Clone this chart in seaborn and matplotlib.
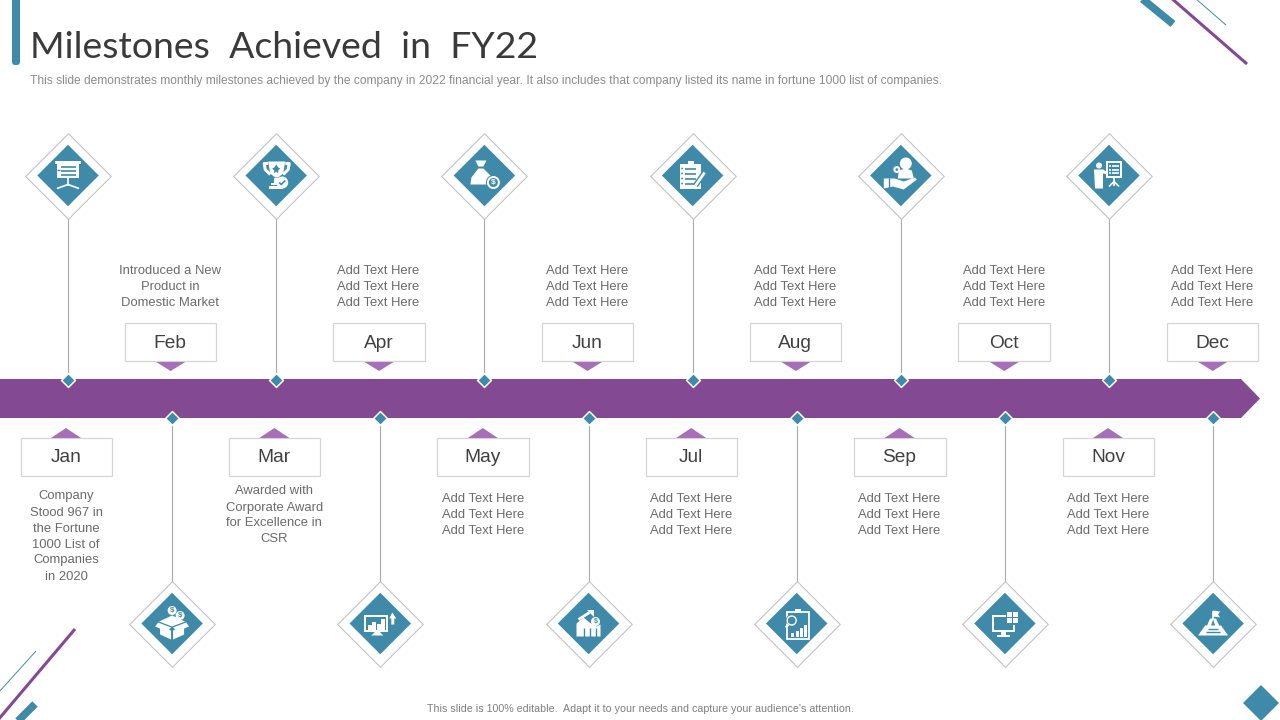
import numpy as np
import pandas as pd
import matplotlib
matplotlib.use('Agg')
import matplotlib.pyplot as plt
import seaborn as sns
from matplotlib.patches import Polygon, Rectangle, Circle, FancyBboxPatch

MONTHS = ['Jan', 'Feb', 'Mar', 'Apr', 'May', 'Jun', 'Jul', 'Aug', 'Sep', 'Oct', 'Nov', 'Dec']
ADD_TEXT = ['Add Text Here', 'Add Text Here', 'Add Text Here']
NOTES = [
    ['Company', 'Stood 967 in', 'the Fortune', '1000 List of', 'Companies', 'in 2020'],
    ['Introduced a New', 'Product in', 'Domestic Market'],
    ['Awarded with', 'Corporate Award', 'for Excellence in', 'CSR'],
    ADD_TEXT, ADD_TEXT, ADD_TEXT, ADD_TEXT, ADD_TEXT, ADD_TEXT, ADD_TEXT, ADD_TEXT, ADD_TEXT,
]
TITLE = 'Milestones  Achieved  in  FY22'
SUBTITLE = ('This slide demonstrates monthly milestones achieved by the company in 2022 financial year. '
            'It also includes that company listed its name in fortune 1000 list of companies.')
FOOTER = "This slide is 100% editable.  Adapt it to your needs and capture your audience's attention."

TEAL = '#408AA9'
PURPLE = '#834A93'
LIGHT_PURPLE = '#A86FB9'
GREY_LINE = '#ABABAB'
BOX_LINE = '#D5D5D5'
TEXT_GREY = '#6B6B6B'

BOX_X0 = 66.0
BOX_STEP = 104.2
LINE_X0 = 68.0
LINE_STEP = 104.1
BAND_TOP = 379
BAND_BOTTOM = 418

sns.set_theme(style='white')
plt.rcParams['font.family'] = ['Liberation Sans', 'DejaVu Sans']

fig = plt.figure(figsize=(12.8, 7.2), dpi=100)
ax = fig.add_axes([0, 0, 1, 1])

df = pd.DataFrame({'month': MONTHS})
df['x'] = BOX_X0 + BOX_STEP * df.index
df['up'] = df.index % 2 == 0           # Jan, Mar ... have their icon above the band
df['line_x'] = LINE_X0 + LINE_STEP * df.index
df['icon_y'] = np.where(df['up'], 175.5, 623.5)
df['node_y'] = np.where(df['up'], BAND_TOP + 1, BAND_BOTTOM)
df['box_top'] = np.where(df['up'], 438, 323)


def rect(x, y, w, h, c='white', z=8):
    ax.add_patch(Rectangle((x, y), w, h, fc=c, ec='none', zorder=z))


def poly(pts, c='white', z=8):
    ax.add_patch(Polygon(pts, closed=True, fc=c, ec='none', zorder=z))


def circ(x, y, r, c='white', z=8):
    ax.add_patch(Circle((x, y), r, fc=c, ec='none', zorder=z))


def seg(pts, c='white', lw=1.0, z=8):
    pts = np.array(pts, dtype=float)
    ax.plot(pts[:, 0], pts[:, 1], color=c, lw=lw, zorder=z, solid_capstyle='butt')


# icons, drawn around their diamond centre
def icon_board(x, y):
    rect(x - 13, y - 15, 26, 3)
    rect(x - 11, y - 12, 22, 14)
    for dy in (-9, -5, -1):
        seg([(x - 7, y + dy), (x + 8, y + dy)], TEAL, 1.2, 9)
    seg([(x - 11, y - 6), (x - 8, y - 6)], TEAL, 1, 9)
    seg([(x, y + 2), (x, y + 10)], lw=1.2)
    seg([(x, y + 9), (x - 11, y + 13)], lw=1.2)
    seg([(x, y + 9), (x + 11, y + 13)], lw=1.2)


def icon_trophy(x, y):
    poly([(x - 8, y - 14), (x + 9, y - 14), (x + 7, y - 2), (x + 2, y + 2), (x - 1, y + 2), (x - 6, y - 2)])
    seg([(x - 8, y - 12), (x - 12, y - 12), (x - 11, y - 6), (x - 6, y - 1)], lw=2.2)
    seg([(x + 9, y - 12), (x + 13, y - 12), (x + 12, y - 6), (x + 7, y - 1)], lw=2.2)
    poly([(x, y - 11), (x + 2, y - 8), (x + 4, y - 7), (x + 2, y - 5), (x + 2, y - 2), (x, y - 4), (x - 2, y - 2), (x - 2, y - 5), (x - 4, y - 7), (x - 2, y - 8)], TEAL, 9)
    rect(x - 2, y + 2, 4, 5)
    rect(x - 5, y + 7, 11, 2)
    rect(x - 7, y + 10, 14, 3)
    circ(x + 6, y + 7, 6)
    seg([(x + 3, y + 7), (x + 5, y + 9), (x + 9, y + 5)], TEAL, 1.2, 9)


def icon_bag(x, y):
    poly([(x - 9, y - 15), (x + 2, y - 15), (x - 1, y - 9), (x - 6, y - 9)])
    poly([(x - 6, y - 7), (x - 1, y - 7), (x + 6, y + 0), (x + 8, y + 9), (x - 14, y + 9), (x - 13, y + 2)])
    circ(x + 9, y + 7, 7.5, TEAL, 9)
    circ(x + 9, y + 7, 6.5, z=9)
    circ(x + 9, y + 7, 4.5, TEAL, 10)
    ax.text(x + 9, y + 7, '$', color='white', fontsize=6, fontweight='bold', ha='center', va='center', zorder=11)


def icon_clipboard(x, y):
    rect(x - 13, y - 12, 21, 25)
    rect(x - 5, y - 15, 6, 4)
    for dy in (-7, -2, 3, 8):
        seg([(x - 8, y + dy), (x + 3, y + dy)], TEAL, 1.2, 9)
        circ(x - 10.5, y + dy, 0.9, TEAL, 9)
    seg([(x + 12, y - 3), (x + 3, y + 10)], TEAL, 4, 9)
    seg([(x + 12, y - 3), (x + 3, y + 10)], lw=2, z=10)


def icon_hand(x, y):
    circ(x + 5, y - 12, 6)
    poly([(x - 3, y + 3), (x - 2, y - 5), (x + 5, y - 7), (x + 11, y - 5), (x + 13, y + 3)])
    circ(x - 4, y - 6, 3.5)
    circ(x - 4, y - 6, 1.3, TEAL, 9)
    poly([(x - 17, y + 3), (x - 6, y + 3), (x + 3, y + 6), (x + 14, y + 2), (x + 16, y + 4), (x + 3, y + 14), (x - 8, y + 11), (x - 17, y + 13)])
    seg([(x - 12, y + 2), (x - 12, y + 14)], TEAL, 1, 9)


def icon_presenter(x, y):
    circ(x - 10, y - 10, 3)
    poly([(x - 15, y - 6), (x - 6, y - 6), (x - 1, y - 3), (x - 1, y - 1), (x - 6, y - 2), (x - 6, y + 13), (x - 14, y + 13)])
    rect(x - 3, y - 15, 16, 17)
    rect(x - 1, y - 13, 12, 13, TEAL, 9)
    for dy in (-10, -6, -3):
        seg([(x + 3, y + dy), (x + 10, y + dy)], lw=1.2, z=10)
        seg([(x, y + dy), (x + 2, y + dy)], lw=1.2, z=10)
    seg([(x + 5, y + 2), (x + 5, y + 10)], lw=1.2)
    seg([(x + 5, y + 6), (x, y + 11)], lw=1.2)
    seg([(x + 5, y + 6), (x + 10, y + 11)], lw=1.2)


def icon_box(x, y):
    poly([(x - 13, y - 2), (x, y - 8), (x + 13, y - 2), (x, y + 3)])
    poly([(x - 12, y + 3), (x - 1, y + 7), (x - 1, y + 16), (x - 12, y + 11)])
    poly([(x + 12, y + 3), (x + 1, y + 7), (x + 1, y + 16), (x + 12, y + 11)])
    poly([(x - 14, y - 1), (x - 1, y + 4), (x - 5, y + 8), (x - 17, y + 3)])
    poly([(x + 14, y - 1), (x + 1, y + 4), (x + 5, y + 8), (x + 17, y + 3)])
    for cx, cy in ((x, y - 13), (x + 8, y - 8)):
        circ(cx, cy, 4.5)
        ax.text(cx, cy, '$', color=TEAL, fontsize=5.5, fontweight='bold', ha='center', va='center', zorder=10)


def icon_monitor_up(x, y):
    rect(x - 16, y - 9, 24, 17)
    rect(x - 14, y - 7, 20, 13, TEAL, 9)
    for dx, h in ((-12, 5), (-8, 8), (-3, 6), (1, 11)):
        rect(x + dx, y + 6 - h, 3.6, h, z=10)
    poly([(x - 5, y + 8), (x - 1, y + 8), (x + 3, y + 12), (x - 9, y + 12)])
    poly([(x + 12, y - 11), (x + 16, y - 5), (x + 14, y - 5), (x + 14, y + 1), (x + 11, y + 1), (x + 11, y - 5), (x + 9, y - 5)])


def icon_growth(x, y):
    poly([(x - 12, y + 13), (x - 12, y + 0), (x - 5, y - 6), (x + 1, y - 1), (x + 8, y + 3), (x + 12, y + 1), (x + 12, y + 13)])
    for dx in (-5, 1, 7):
        seg([(x + dx, y + 4), (x + dx, y + 13)], TEAL, 1, 9)
    seg([(x - 10, y - 4), (x + 1, y - 11)], lw=2, z=10)
    poly([(x + 5, y - 7), (x + 5, y - 14), (x - 2, y - 14)])
    circ(x + 7, y - 2, 4.5)
    ax.text(x + 7, y - 2, '$', color=TEAL, fontsize=5, fontweight='bold', ha='center', va='center', zorder=10)


def icon_report(x, y):
    ax.add_patch(Rectangle((x - 10, y - 12), 22, 27, fc='none', ec='white', lw=1.3, zorder=8))
    rect(x - 2, y - 15, 6, 4)
    for dx, h in ((-6, 4), (-1, 6), (3, 9), (7, 12)):
        rect(x + dx, y + 13 - h, 3.2, h)
    circ(x - 5, y - 3, 6, TEAL, 9)
    ax.add_patch(Circle((x - 5, y - 3), 4.5, fc='none', ec='white', lw=1, zorder=10))
    seg([(x - 8, y + 1), (x - 11, y + 4)], lw=1.6, z=10)


def icon_monitor_grid(x, y):
    rect(x - 13, y - 9, 23, 17)
    rect(x - 11, y - 7, 19, 13, TEAL, 9)
    rect(x - 4, y + 8, 5, 4)
    rect(x - 8, y + 11, 13, 2)
    rect(x + 1, y - 13, 13, 14, TEAL, 10)
    for dx, dy in ((2, -12), (8, -12), (2, -6), (8, -6)):
        rect(x + dx, y + dy, 5, 5, z=11)


def icon_flag(x, y):
    seg([(x, y - 13), (x, y - 4)], lw=1.2)
    poly([(x, y - 13), (x + 7, y - 12), (x + 5, y - 9), (x + 7, y - 6), (x, y - 7)])
    poly([(x - 15, y + 12), (x - 8, y + 2), (x - 6, y + 2), (x - 3, y - 5), (x + 3, y - 5), (x + 6, y + 2), (x + 8, y + 2), (x + 15, y + 12)])
    seg([(x - 5, y + 5), (x + 5, y + 5)], TEAL, 1, 9)
    seg([(x - 7, y + 8), (x + 7, y + 8)], TEAL, 1, 9)
    poly([(x, y - 4), (x + 2, y + 2), (x - 2, y + 2)], TEAL, 9)


ICONS = [icon_board, icon_box, icon_trophy, icon_monitor_up, icon_bag, icon_growth,
         icon_clipboard, icon_report, icon_hand, icon_monitor_grid, icon_presenter, icon_flag]

# connector lines
for _, row in df.iterrows():
    ax.plot([row.line_x, row.line_x], [row.icon_y, row.node_y], color=GREY_LINE, lw=0.8, zorder=1)

# purple band with arrow head
poly([(0, BAND_TOP), (1241, BAND_TOP), (1260, 398.5), (1241, BAND_BOTTOM), (0, BAND_BOTTOM)], PURPLE, 2)

# icon diamonds and small nodes on the band
sns.scatterplot(data=df, x='line_x', y='icon_y', marker='D', s=1900, color='white', edgecolor='#C4C4C4',
                linewidth=0.8, legend=False, ax=ax, zorder=5)
sns.scatterplot(data=df, x='line_x', y='icon_y', marker='D', s=980, color=TEAL, edgecolor='none',
                legend=False, ax=ax, zorder=6)
sns.scatterplot(data=df, x='line_x', y='node_y', marker='D', s=50, color=TEAL, edgecolor='white',
                linewidth=1.1, legend=False, ax=ax, zorder=7)

for i, row in df.iterrows():
    ICONS[i](row.line_x, row.icon_y)

    # month box and its small triangle
    ax.add_patch(Rectangle((row.x - 45.5, row.box_top), 91.5, 38, fc='white', ec=BOX_LINE, lw=0.9, zorder=3))
    ax.text(row.x, row.box_top + 20, row.month, fontsize=13.8, color='#404040', ha='center', va='center', zorder=4)
    if row.up:
        poly([(row.x - 15, 438), (row.x + 15, 438), (row.x, 428)], LIGHT_PURPLE, 3)
    else:
        poly([(row.x - 14, 362), (row.x + 15, 362), (row.x + 0.5, 371)], LIGHT_PURPLE, 3)

    # notes under or over the box
    lines = NOTES[i]
    if row.up:
        y0 = {'Jan': 495, 'Mar': 490}.get(row.month, 498)
    else:
        y0 = 301 - 16 * (len(lines) - 1)
    for k, line in enumerate(lines):
        ax.text(row.x, y0 + 16 * k + 1.5, line, fontsize=9.35, color=TEXT_GREY, ha='center', va='center')

# title block
ax.add_patch(FancyBboxPatch((12, -10), 8, 75, boxstyle='round,pad=0,rounding_size=3', fc=TEAL, ec='none', zorder=3))
ax.text(30, 48, TITLE, fontsize=26.9, color='#3A3A3A', ha='left', va='center',
        family=['Lato', 'DejaVu Sans'])
ax.text(30, 81, SUBTITLE, fontsize=8.66, color='#8C8C8C', ha='left', va='center')
ax.text(640, 708.5, FOOTER, fontsize=7.66, color='#7F7F7F', ha='center', va='center')

# corner decoration
seg([(1140, -3), (1173, 24)], TEAL, 5.5)
seg([(1170, -3), (1247, 64)], PURPLE, 2.2)
seg([(1196, -1), (1226, 25)], TEAL, 0.7)
seg([(-2, 720), (75, 629)], PURPLE, 2.2)
seg([(-1, 692), (36, 651)], TEAL, 0.7)
seg([(16, 723), (35, 704)], TEAL, 5.5)
poly([(1261, 685), (1279, 703), (1261, 721), (1243, 703)], TEAL, 3)

ax.set_xlim(0, 1280)
ax.set_ylim(720, 0)
ax.axis('off')

fig.savefig('out.png', dpi=100)
